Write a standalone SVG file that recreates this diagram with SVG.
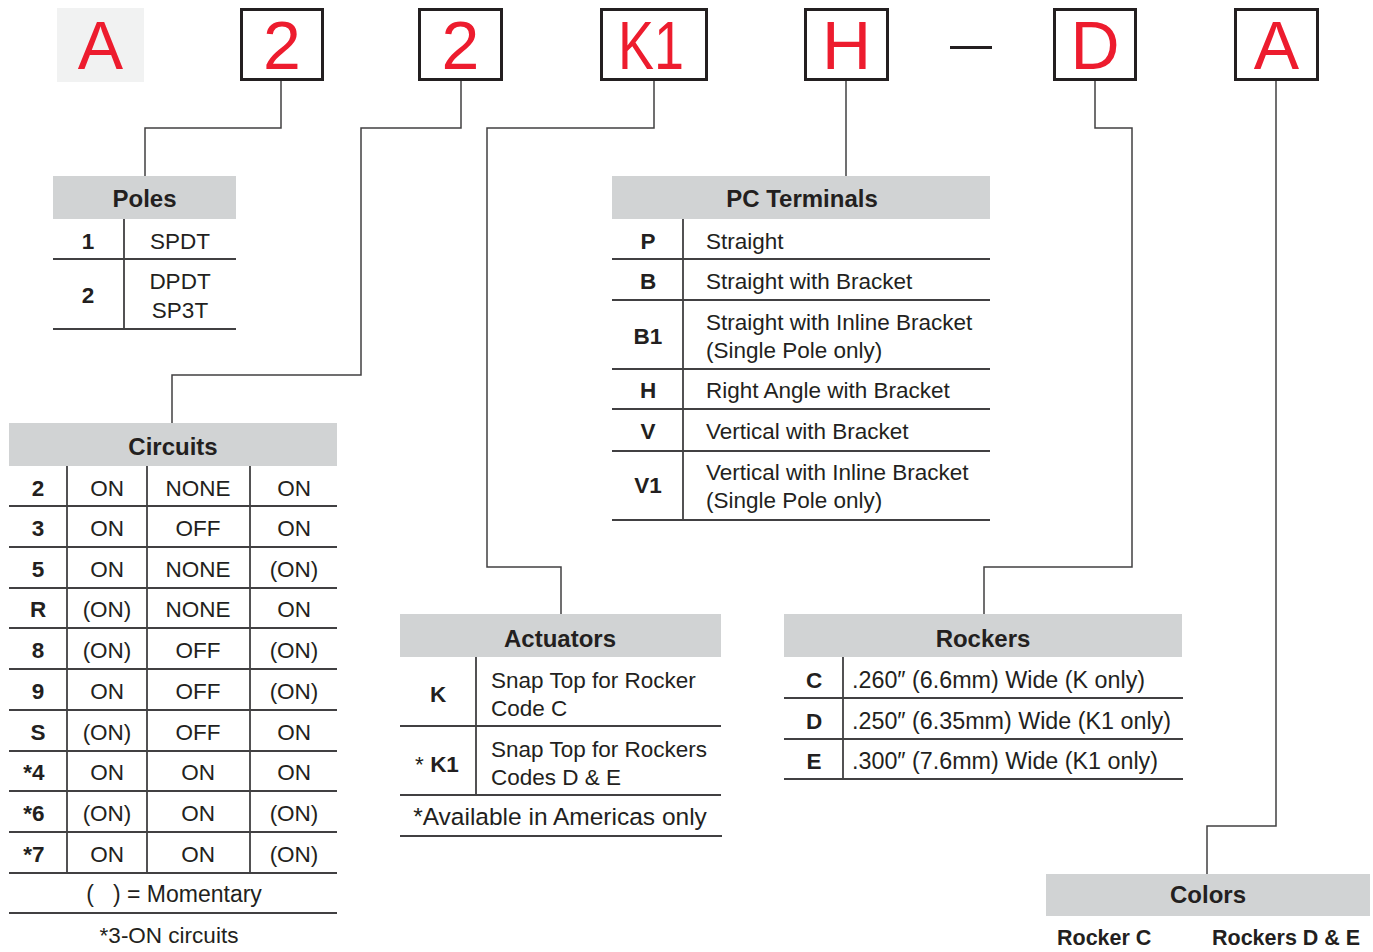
<svg xmlns="http://www.w3.org/2000/svg" width="1373" height="952" viewBox="0 0 1373 952">
<style>
.box{fill:#fff;stroke:#231f20;stroke-width:3}
.red{font-family:"Liberation Sans",Arial,sans-serif;font-size:68px;fill:#ed1c2e;text-anchor:middle}
.hdr{fill:#d1d3d4}
.ht{font-family:"Liberation Sans",Arial,sans-serif;font-weight:bold;font-size:24px;fill:#231f20;text-anchor:middle}
.t{font-family:"Liberation Sans",Arial,sans-serif;font-size:22.5px;fill:#231f20}
.c{text-anchor:middle}
.b{font-weight:bold}
.ln{stroke:#414042;stroke-width:1.8;fill:none}
.conn{stroke:#414042;stroke-width:1.5;fill:none}
</style>
<rect width="1373" height="952" fill="#fff"/>

<g id="code">
  <rect x="57" y="8" width="87" height="74" fill="#f1f2f2"/>
  <text class="red" x="100.5" y="69">A</text>
  <rect class="box" x="241.5" y="9.5" width="81" height="70"/>
  <text class="red" x="282" y="69">2</text>
  <rect class="box" x="419.5" y="9.5" width="82" height="70"/>
  <text class="red" x="460.5" y="69">2</text>
  <rect class="box" x="601.5" y="9.5" width="105" height="70"/>
  <text class="red" x="651" y="69" textLength="66" lengthAdjust="spacingAndGlyphs">K1</text>
  <rect class="box" x="805.5" y="9.5" width="82" height="70"/>
  <text class="red" x="846.5" y="69">H</text>
  <line x1="950" y1="47.5" x2="992" y2="47.5" stroke="#231f20" stroke-width="3"/>
  <rect class="box" x="1054.5" y="9.5" width="81" height="70"/>
  <text class="red" x="1095" y="69">D</text>
  <rect class="box" x="1235.5" y="9.5" width="82" height="70"/>
  <text class="red" x="1276.5" y="69">A</text>
</g>

<g id="connectors">
  <path class="conn" d="M281 81 V128 H145 V176"/>
  <path class="conn" d="M461 81 V128 H361 V375 H172 V423"/>
  <path class="conn" d="M654 81 V128 H487 V567 H561 V614"/>
  <path class="conn" d="M846 81 V176"/>
  <path class="conn" d="M1095 81 V128 H1132 V567 H984 V614"/>
  <path class="conn" d="M1276 81 V826 H1207 V874"/>
</g>

<g id="poles">
  <rect class="hdr" x="53" y="176" width="183" height="43"/>
  <text class="ht" x="144.5" y="207">Poles</text>
  <path class="ln" d="M124 219 V329 M53 259 H236 M53 329 H236"/>
  <text class="t b c" x="88" y="249">1</text>
  <text class="t c" x="180" y="249">SPDT</text>
  <text class="t b c" x="88" y="303">2</text>
  <text class="t c" x="180" y="289">DPDT</text>
  <text class="t c" x="180" y="318">SP3T</text>
</g>

<g id="circuits">
  <rect class="hdr" x="9" y="423" width="328" height="43"/>
  <text class="ht" x="173" y="455">Circuits</text>
  <path class="ln" d="M67 466 V873 M147 466 V873 M250 466 V873 M9 506 H337 M9 547 H337 M9 588 H337 M9 628 H337 M9 669 H337 M9 710 H337 M9 751 H337 M9 791 H337 M9 832 H337 M9 873 H337 M9 913 H337"/>
  <g class="t c">
    <text class="b" x="38" y="496">2</text><text x="107" y="496">ON</text><text x="198" y="496">NONE</text><text x="294" y="496">ON</text>
    <text class="b" x="38" y="536">3</text><text x="107" y="536">ON</text><text x="198" y="536">OFF</text><text x="294" y="536">ON</text>
    <text class="b" x="38" y="577">5</text><text x="107" y="577">ON</text><text x="198" y="577">NONE</text><text x="294" y="577">(ON)</text>
    <text class="b" x="38" y="617">R</text><text x="107" y="617">(ON)</text><text x="198" y="617">NONE</text><text x="294" y="617">ON</text>
    <text class="b" x="38" y="658">8</text><text x="107" y="658">(ON)</text><text x="198" y="658">OFF</text><text x="294" y="658">(ON)</text>
    <text class="b" x="38" y="699">9</text><text x="107" y="699">ON</text><text x="198" y="699">OFF</text><text x="294" y="699">(ON)</text>
    <text class="b" x="38" y="740">S</text><text x="107" y="740">(ON)</text><text x="198" y="740">OFF</text><text x="294" y="740">ON</text>
    <text class="b" x="34" y="780">*4</text><text x="107" y="780">ON</text><text x="198" y="780">ON</text><text x="294" y="780">ON</text>
    <text class="b" x="34" y="821">*6</text><text x="107" y="821">(ON)</text><text x="198" y="821">ON</text><text x="294" y="821">(ON)</text>
    <text class="b" x="34" y="862">*7</text><text x="107" y="862">ON</text><text x="198" y="862">ON</text><text x="294" y="862">(ON)</text>
    <text x="174" y="902" style="font-size:23px">(&#160;&#160;&#160;) = Momentary</text>
    <text x="169" y="943">*3-ON circuits</text>
  </g>
</g>

<g id="pc-terminals">
  <rect class="hdr" x="612" y="176" width="378" height="43"/>
  <text class="ht" x="802" y="207">PC Terminals</text>
  <path class="ln" d="M683 219 V520 M612 259 H990 M612 300 H990 M612 369 H990 M612 409 H990 M612 451 H990 M612 520 H990"/>
  <g class="t">
    <text class="b c" x="648" y="249">P</text><text x="706" y="249">Straight</text>
    <text class="b c" x="648" y="289">B</text><text x="706" y="289">Straight with Bracket</text>
    <text class="b c" x="648" y="344">B1</text><text x="706" y="330">Straight with Inline Bracket</text><text x="706" y="358">(Single Pole only)</text>
    <text class="b c" x="648" y="398">H</text><text x="706" y="398">Right Angle with Bracket</text>
    <text class="b c" x="648" y="439">V</text><text x="706" y="439">Vertical with Bracket</text>
    <text class="b c" x="648" y="493">V1</text><text x="706" y="480">Vertical with Inline Bracket</text><text x="706" y="508">(Single Pole only)</text>
  </g>
</g>

<g id="actuators">
  <rect class="hdr" x="400" y="614" width="321" height="43"/>
  <text class="ht" x="560" y="647">Actuators</text>
  <path class="ln" d="M476 657 V795 M400 726 H721 M400 795 H721 M400 836 H722"/>
  <g class="t">
    <text class="b c" x="438" y="702">K</text>
    <text x="491" y="688">Snap Top for Rocker</text><text x="491" y="716">Code C</text>
    <text class="c" x="437" y="772">* <tspan class="b">K1</tspan></text>
    <text x="491" y="757">Snap Top for Rockers</text><text x="491" y="785">Codes D &amp; E</text>
    <text class="c" x="560" y="825" style="font-size:24.5px">*Available in Americas only</text>
  </g>
</g>

<g id="rockers">
  <rect class="hdr" x="784" y="614" width="398" height="43"/>
  <text class="ht" x="983" y="647">Rockers</text>
  <path class="ln" d="M843 657 V779 M784 698 H1183 M784 739 H1183 M784 779 H1183"/>
  <g class="t">
    <text class="b c" x="814" y="688">C</text><text x="852" y="688" style="font-size:23.3px">.260″ (6.6mm) Wide (K only)</text>
    <text class="b c" x="814" y="729">D</text><text x="852" y="729" style="font-size:23.3px">.250″ (6.35mm) Wide (K1 only)</text>
    <text class="b c" x="814" y="769">E</text><text x="852" y="769" style="font-size:23.3px">.300″ (7.6mm) Wide (K1 only)</text>
  </g>
</g>

<g id="colors">
  <rect class="hdr" x="1046" y="874" width="324" height="42"/>
  <text class="ht" x="1208" y="903">Colors</text>
  <text class="t b" x="1057" y="945" style="font-size:21.5px">Rocker C</text>
  <text class="t b" x="1212" y="945" style="font-size:21.5px">Rockers D &amp; E</text>
</g>
</svg>
